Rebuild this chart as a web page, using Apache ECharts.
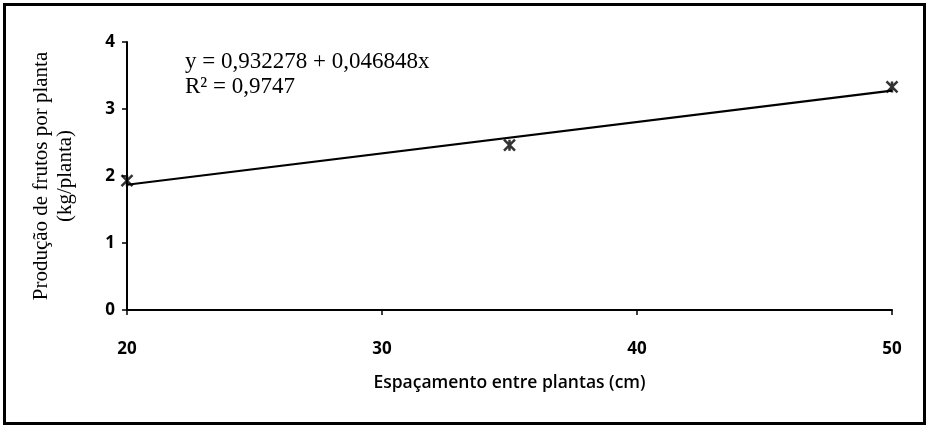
<!DOCTYPE html>
<html>
<head>
<meta charset="utf-8">
<script src="https://cdn.jsdelivr.net/npm/echarts@6/dist/echarts.min.js"></script>
<style>html,body{margin:0;padding:0;background:#fff;}#c{width:926px;height:429px;}</style>
</head>
<body>
<div id="c"></div>
<script>
const spacing = [20, 35, 50];
const production = [1.93, 2.46, 3.33];
const trendX = [20, 50];
const trendY = [1.869, 3.275];
const xTicks = [20, 30, 40, 50];
const yTicks = [0, 1, 2, 3, 4];
const equationLines = ['y = 0,932278 + 0,046848x', 'R² = 0,9747'];
const xTitle = 'Espaçamento entre plantas (cm)';
const yTitle = 'Produção de frutos por planta\n(kg/planta)';

const chart = echarts.init(document.getElementById('c'), null, {renderer: 'canvas'});
const tickFont = {fontFamily: 'Open Sans', fontWeight: 'bold', fontSize: 17, color: '#000'};
chart.setOption({
  animation: false,
  backgroundColor: '#fff',
  grid: {left: 127, right: 34, top: 42, bottom: 119},
  xAxis: {
    type: 'value', min: 20, max: 50, interval: 10,
    axisLine: {lineStyle: {color: '#000', width: 2}},
    axisTick: {show: true, length: 5, lineStyle: {color: '#000', width: 1.5}},
    axisLabel: Object.assign({margin: 31, formatter: v => xTicks.includes(v) ? String(v) : ''}, tickFont),
    splitLine: {show: false},
    name: xTitle, nameLocation: 'middle', nameGap: 64,
    nameTextStyle: {fontFamily: 'Open Sans', fontWeight: 600, fontSize: 17.5, color: '#000'}
  },
  yAxis: {
    type: 'value', min: 0, max: 4, interval: 1,
    axisLine: {show: true, lineStyle: {color: '#000', width: 2}},
    axisTick: {show: true, length: 5, lineStyle: {color: '#000', width: 1.5}},
    axisLabel: Object.assign({margin: 12, formatter: v => yTicks.includes(v) ? String(v) : ''}, tickFont),
    splitLine: {show: false},
    name: yTitle, nameLocation: 'middle', nameGap: 50, nameRotate: 90,
    nameTextStyle: {fontFamily: 'Liberation Serif', fontSize: 21, color: '#000', lineHeight: 24, align: 'center'}
  },
  series: [
    {
      type: 'line', data: trendX.map((x, i) => [x, trendY[i]]),
      symbol: 'none', lineStyle: {color: '#000', width: 2.2}, z: 2
    },
    {
      type: 'scatter', data: spacing.map((x, i) => [x, production[i]]),
      symbol: 'path://M0,0L10,10M10,0L0,10M5,0L5,10', symbolSize: 11,
      itemStyle: {color: 'none', borderColor: '#000', borderWidth: 2.5}, z: 3
    }
  ],
  graphic: [
    {type: 'rect', shape: {x: 4.5, y: 4.5, width: 920, height: 419},
     style: {fill: 'none', stroke: '#000', lineWidth: 3}, silent: true},
    {type: 'text', left: 185, top: 49,
     style: {text: equationLines.join('\n'), fontFamily: 'Liberation Serif', fontSize: 23, lineHeight: 25, fill: '#000'}}
  ]
});
</script>
</body>
</html>
